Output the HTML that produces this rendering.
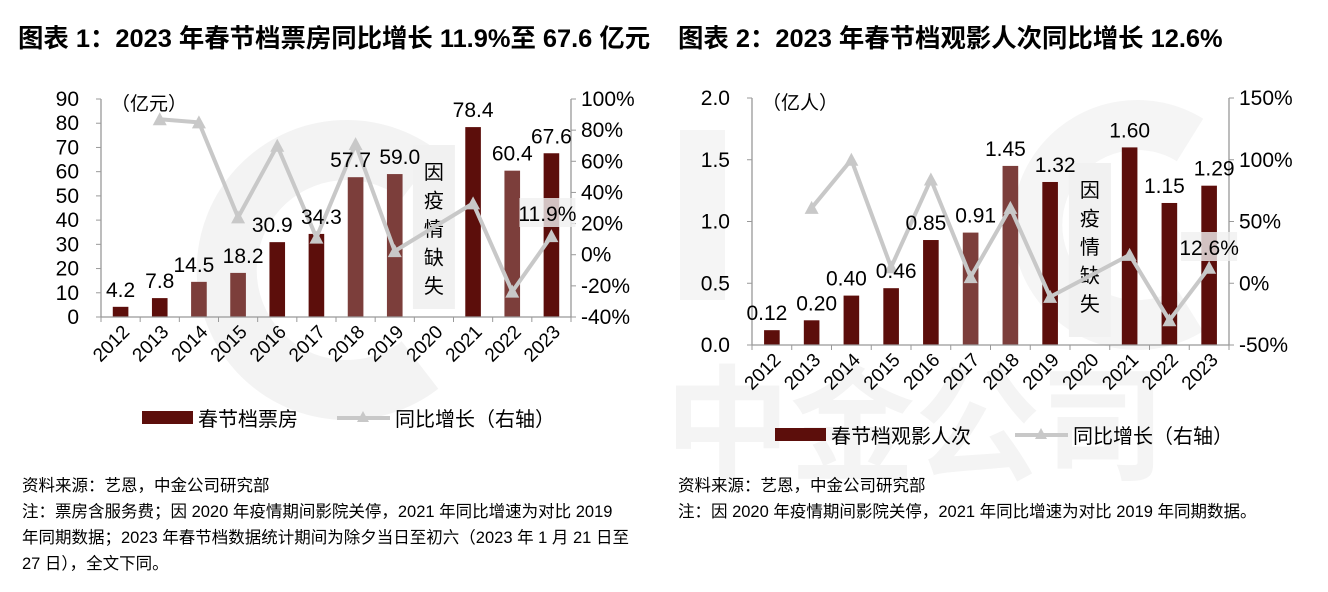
<!DOCTYPE html>
<html><head><meta charset="utf-8">
<style>
body{margin:0;width:1328px;height:592px;background:#fff;overflow:hidden;font-family:"Liberation Sans","Noto Sans CJK SC",sans-serif;}
.t{position:absolute;font-weight:bold;font-size:25.4px;top:19px;color:#000;white-space:nowrap}
.n{position:absolute;font-size:16.5px;color:#000;white-space:nowrap;line-height:26px}
svg{position:absolute;left:0;top:0}
text{font-family:"Liberation Sans","Noto Sans CJK SC",sans-serif}
</style></head><body>
<svg id="s" width="1328" height="592"></svg>
<div class="t" style="left:18px">图表 1：2023 年春节档票房同比增长 11.9%至 67.6 亿元</div>
<div class="t" style="left:678px">图表 2：2023 年春节档观影人次同比增长 12.6%</div>
<div class="n" style="left:22px;top:473px">资料来源：艺恩，中金公司研究部<br>注：票房含服务费；因 2020 年疫情期间影院关停，2021 年同比增速为对比 2019<br>年同期数据；2023 年春节档数据统计期间为除夕当日至初六（2023 年 1 月 21 日至<br>27 日），全文下同。</div>
<div class="n" style="left:678px;top:473px">资料来源：艺恩，中金公司研究部<br>注：因 2020 年疫情期间影院关停，2021 年同比增速为对比 2019 年同期数据。</div>
<script>
const years=["2012","2013","2014","2015","2016","2017","2018","2019","2020","2021","2022","2023"];
const boxOffice=[4.2,7.8,14.5,18.2,30.9,34.3,57.7,59.0,null,78.4,60.4,67.6];
const boxLabels=["4.2","7.8","14.5","18.2","30.9","34.3","57.7","59.0","","78.4","60.4","67.6"];
const boxGrowth=[null,87,85,24,70,11,71,2.3,null,33,-23.7,11.9];
const leftTicks1=[0,10,20,30,40,50,60,70,80,90];
const rightTicks1=[-40,-20,0,20,40,60,80,100];
const admissions=[0.12,0.20,0.40,0.46,0.85,0.91,1.45,1.32,null,1.60,1.15,1.29];
const admLabels=["0.12","0.20","0.40","0.46","0.85","0.91","1.45","1.32","","1.60","1.15","1.29"];
const admGrowth=[null,61,100,13,84,5,61,-11,null,23,-30,12.6];
const leftTicks2=[0,0.5,1.0,1.5,2.0];
const rightTicks2=[-50,0,50,100,150];

const S=document.getElementById('s');const NS='http://www.w3.org/2000/svg';
function mk(tag,at,txt,parent){const e=document.createElementNS(NS,tag);for(const k in at)e.setAttribute(k,at[k]);if(txt!=null)e.textContent=txt;(parent||S).appendChild(e);return e;}
const FS=21;
const wm=mk('g',{});


mk('path',{d:'M 420 175 A 120 120 0 1 0 420 365',fill:'none',stroke:'#f3f3f3','stroke-width':60},null,wm);
mk('path',{d:'M 1190 140 A 100 100 0 1 0 1190 310',fill:'none',stroke:'#f5f5f5','stroke-width':50},null,wm);
mk('rect',{x:680,y:130,width:45,height:170,fill:'#f5f5f5'},null,wm);
mk('text',{x:665,y:470,'font-size':125,fill:'#f4f4f4','font-weight':'bold'},'中金公司',wm);

function chart(o){
  const g=mk('g',{});
  
  
  const {L,R,T,B}=o;const cw=(R-L)/o.cats.length;
  const yl=v=>B-(v-o.lmin)/(o.lmax-o.lmin)*(B-T);
  const yr=v=>B-(v-o.rmin)/(o.rmax-o.rmin)*(B-T);
  const xc=i=>L+cw*(i+0.5);
  const mb=mk('rect',{x:xc(8)-21,y:o.boxY,width:42,height:B-o.boxY-8,fill:'#f1f1f1'},null,g);
  
  
  "因疫情缺失".split('').forEach((c,k)=>{const t=mk('text',{x:xc(8),y:o.boxY+34+k*28.5,'font-size':20,'text-anchor':'middle',fill:'#000'},c,g);});
  o.vals.forEach((v,i)=>{if(v==null)return;const r=mk('rect',{x:xc(i)-7.8,y:yl(v),width:15.6,height:B-yl(v),fill:'#5c0e0b'},null,g);});
  o.lighten.forEach(i=>{if(o.vals[i]==null)return;mk('rect',{x:xc(i)-7.8,y:yl(o.vals[i]),width:15.6,height:B-yl(o.vals[i]),fill:'rgba(255,255,255,0.2)'},null,g);});
  mk('line',{x1:L,y1:T,x2:L,y2:B,stroke:'#999','stroke-width':1.3},null,g);
  mk('line',{x1:R,y1:T,x2:R,y2:B,stroke:'#999','stroke-width':1.3},null,g);
  mk('line',{x1:L,y1:B,x2:R,y2:B,stroke:'#999','stroke-width':1.3},null,g);
  for(let i=0;i<=o.cats.length;i++)mk('line',{x1:L+cw*i,y1:B,x2:L+cw*i,y2:B+5,stroke:'#999'},null,g);
  o.lt.forEach(v=>{mk('line',{x1:L-5,y1:yl(v),x2:L,y2:yl(v),stroke:'#999'},null,g);const t=mk('text',{x:L-22,y:yl(v)+7,'font-size':FS,'text-anchor':'end'},o.lfmt(v),g);});
  o.rt.forEach(v=>{mk('line',{x1:R,y1:yr(v),x2:R+5,y2:yr(v),stroke:'#999'},null,g);const t=mk('text',{x:R+10,y:yr(v)+7,'font-size':FS},v+'%',g);});
  o.cats.forEach((c,i)=>{const t=mk('text',{x:xc(i)+10,y:B+16,'font-size':19,'text-anchor':'end',transform:`rotate(-45 ${xc(i)+10} ${B+16})`},c,g);});
  const u=mk('text',{x:L+10,y:T+11,'font-size':19},o.unit,g);
  const pts=[];o.gr.forEach((v,i)=>{if(v!=null)pts.push(xc(i)+','+yr(v));});
  const pl=mk('polyline',{points:pts.join(' '),fill:'none',stroke:'#c8c8c8','stroke-width':4},null,g);
  
  o.gr.forEach((v,i)=>{if(v==null)return;const x=xc(i),y=yr(v);const p=mk('polygon',{points:`${x},${y-7} ${x-7},${y+6} ${x+7},${y+6}`,fill:'#c8c8c8'},null,g);});
  o.labels.forEach((s,i)=>{if(!s)return;const v=o.vals[i];const t=mk('text',{x:xc(i)+(o.ldx[i]||0),y:yl(v)-o.ldy,'font-size':FS,'text-anchor':'middle',fill:'#000'},s,g);});
  const lx=xc(11)+o.gx,ly=o.gy;
  mk('rect',{x:lx-28,y:ly-23,width:56,height:29,fill:'rgba(240,240,240,0.8)'},null,g);
  const ga=mk('text',{x:lx,y:ly,'font-size':FS,'text-anchor':'middle'},o.gtxt,g);
  const lg=mk('g',{},null,g);
  const e1=mk('g',{},null,lg);
  mk('rect',{x:o.lgx,y:o.lgy-12,width:51,height:13,fill:'#5c0e0b'},null,e1);
  mk('text',{x:o.lgx+56,y:o.lgy+3,'font-size':20},o.lg1,e1);
  const e2=mk('g',{},null,lg);
  const x2=o.lgx+o.lg2dx;
  mk('line',{x1:x2,y1:o.lgy-5,x2:x2+53,y2:o.lgy-5,stroke:'#c8c8c8','stroke-width':4},null,e2);
  mk('polygon',{points:`${x2+26},${o.lgy-12} ${x2+20},${o.lgy-1} ${x2+32},${o.lgy-1}`,fill:'#c8c8c8'},null,e2);
  mk('text',{x:x2+58,y:o.lgy+3,'font-size':20},'同比增长（右轴）',e2);
}
chart({name:'chart1-box-office',L:101,R:571,T:99,B:317,cats:years,vals:boxOffice,labels:boxLabels,gr:boxGrowth,lmin:0,lmax:90,rmin:-40,rmax:100,lt:leftTicks1,rt:rightTicks1,lfmt:v=>String(v),unit:'（亿元）',boxY:145,ldy:10,ldx:{2:-5,3:5,4:-5,5:5,6:-5,7:5},lighten:[2,3,6,7,10],gx:-4,gy:221,gtxt:'11.9%',lgx:142,lgy:423,lg1:'春节档票房',lg2dx:195});
chart({name:'chart2-admissions',L:752,R:1229,T:98,B:345,cats:years,vals:admissions,labels:admLabels,gr:admGrowth,lmin:0,lmax:2,rmin:-50,rmax:150,lt:leftTicks2,rt:rightTicks2,lfmt:v=>v.toFixed(1),unit:'（亿人）',boxY:163,ldy:10,ldx:{0:-5,1:5,2:-5,3:5,4:-5,5:5,6:-5,7:5,10:-5,11:5},lighten:[5,6],gx:0,gy:255,gtxt:'12.6%',lgx:775,lgy:440,lg1:'春节档观影人次',lg2dx:240});
</script>
</body></html>
